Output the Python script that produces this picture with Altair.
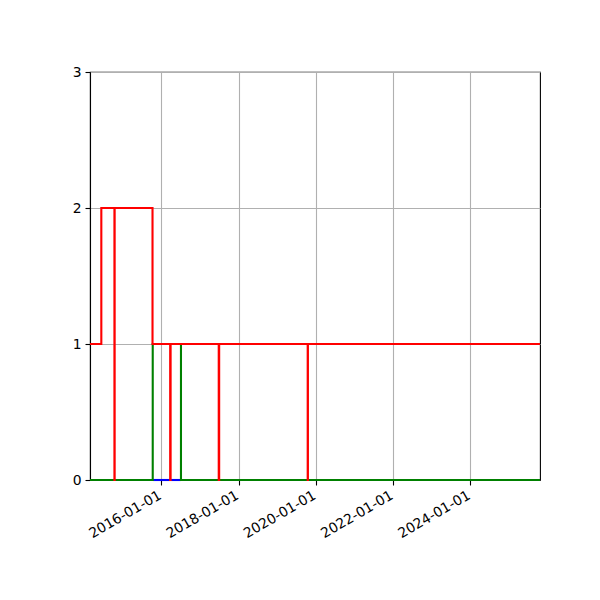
import altair as alt
import pandas as pd

# Step series (date of change, value after change)
blue_dates = ["2015-10-12", "2016-07-05"]
blue_values = [0, 0]

green_dates = ["2014-02-26", "2015-10-12", "2016-07-05", "2025-10-20"]
green_values = [0, 1, 0, 0]

red_dates = ["2014-02-26", "2014-06-13", "2014-10-15", "2014-10-17", "2015-10-10",
             "2016-03-25", "2016-03-29", "2017-06-27", "2017-07-01",
             "2019-10-16", "2019-10-18", "2025-10-20"]
red_values = [1, 2, 0, 2, 1, 0, 1, 0, 1, 0, 1, 1]

x_tick_dates = ["2016-01-01", "2018-01-01", "2020-01-01", "2022-01-01", "2024-01-01"]
y_ticks = [0, 1, 2, 3]
x_domain = ["2014-02-26", "2025-10-20"]

FONT = "DejaVu Sans"


def dt(d):
    return alt.DateTime(year=int(d[:4]), month=int(d[5:7]), date=int(d[8:]), utc=True)


def frame(dates, values):
    return pd.DataFrame({"date": dates, "value": values})


x_enc = alt.X(
    "date:T",
    scale=alt.Scale(type="utc", domain=[dt(d) for d in x_domain]),
    axis=alt.Axis(
        values=[dt(d) for d in x_tick_dates],
        labelExpr="utcFormat(datum.value, '%Y-%m-%d')",
        labelAngle=-30, labelAlign="right", labelBaseline="top",
        labelOffset=-5, labelPadding=3,
        title=None,
    ),
)
y_enc = alt.Y(
    "value:Q",
    scale=alt.Scale(domain=[0, 3], nice=False, zero=True),
    axis=alt.Axis(values=y_ticks, format="d", title=None, labelPadding=4),
)


def step(df, color):
    return alt.Chart(df).mark_line(
        interpolate="step-after", color=color, strokeWidth=2.1, clip=False
    ).encode(x=x_enc, y=y_enc)


chart = alt.layer(
    step(frame(blue_dates, blue_values), "#0000ff"),
    step(frame(green_dates, green_values), "#008000"),
    step(frame(red_dates, red_values), "#ff0000"),
).properties(
    width=450, height=408,
    autosize=alt.AutoSizeParams(type="none"),
    padding={"left": 82, "top": 64, "right": 52, "bottom": 112},
    background="white",
).configure_view(
    stroke="black", strokeWidth=1.1
).configure_axis(
    grid=True, gridColor="#b0b0b0", gridWidth=1.1,
    domainColor="black", domainWidth=1.1,
    tickColor="black", tickWidth=1.1, tickSize=5,
    labelFont=FONT, labelFontSize=13.9, labelColor="black",
)

chart.save("out.html", embed_options={"renderer": "svg", "actions": False})
